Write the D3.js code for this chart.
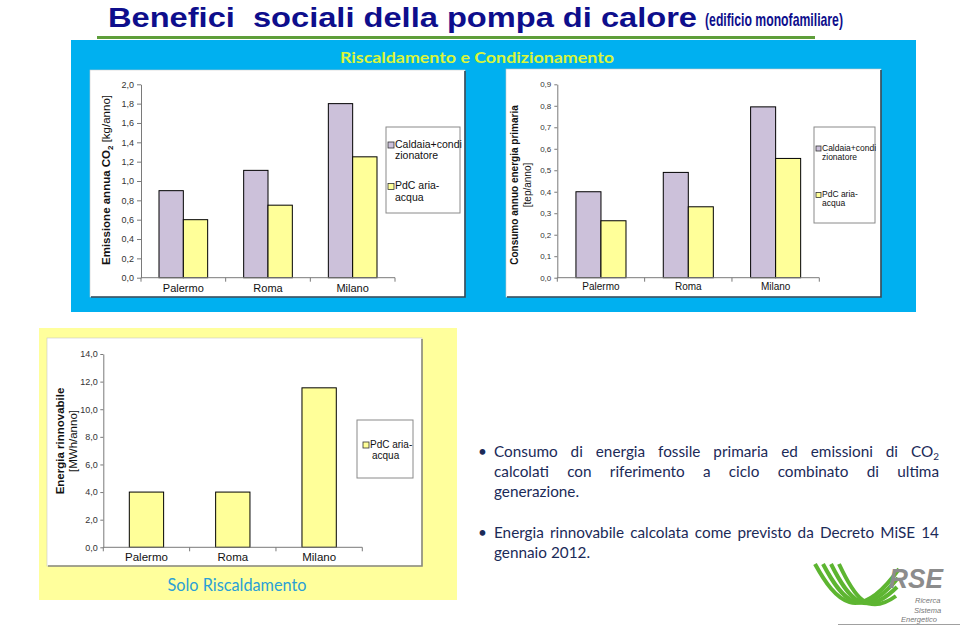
<!DOCTYPE html>
<html><head><meta charset="utf-8">
<script src="https://cdn.jsdelivr.net/npm/d3@7"></script>
<style>body{margin:0;background:#fff}svg{display:block}text{white-space:pre}</style>
</head><body><svg id="c" width="960" height="628"></svg>
<script>
// ---------- DATA ----------
const categories = ["Palermo", "Roma", "Milano"];
const seriesNames = ["Caldaia+condizionatore", "PdC aria-acqua"];
const co2Caldaia = [0.90, 1.11, 1.80];
const co2PdC = [0.60, 0.75, 1.25];
const primCaldaia = [0.40, 0.49, 0.795];
const primPdC = [0.265, 0.33, 0.555];
const rinnPdC = [4.0, 4.0, 11.55];
const co2Ticks = [0, 0.2, 0.4, 0.6, 0.8, 1.0, 1.2, 1.4, 1.6, 1.8, 2.0];
const primTicks = [0, 0.1, 0.2, 0.3, 0.4, 0.5, 0.6, 0.7, 0.8, 0.9];
const rinnTicks = [0, 2, 4, 6, 8, 10, 12, 14];
const legendCaldaia = ["Caldaia+condi", "zionatore"];
const legendPdC = ["PdC aria-", "acqua"];
const bullet1 = ["Consumo di energia fossile primaria ed emissioni di CO\u2082", "calcolati con riferimento a ciclo combinato di ultima", "generazione."];
const bullet2 = ["Energia rinnovabile calcolata come previsto da Decreto MiSE 14", "gennaio 2012."];

const PURPLE = "#CCC1DA", YELLOW = "#FFFF99";
const ARIAL = "'Liberation Sans', Arial, sans-serif";
const NARROW = "'Liberation Sans Narrow','Arial Narrow','Liberation Sans',sans-serif";
const svg = d3.select("#c");

// ---------- BACKGROUND / TITLE ----------
svg.append("text").attr("x", 108).attr("y", 26.5)
  .attr("font-family", NARROW).attr("font-weight", "bold").attr("font-size", 28).attr("fill", "#0E0E8C")
  .attr("textLength", 589).attr("lengthAdjust", "spacingAndGlyphs")
  .text("Benefici  sociali della pompa di calore");
svg.append("text").attr("x", 705).attr("y", 26)
  .attr("font-family", NARROW).attr("font-weight", "bold").attr("font-size", 19).attr("fill", "#0E0E8C")
  .attr("textLength", 138).attr("lengthAdjust", "spacingAndGlyphs")
  .text("(edificio monofamiliare)");
svg.append("rect").attr("x", 97).attr("y", 36).attr("width", 718).attr("height", 3).attr("fill", "#5E9E3A");

// blue panel
svg.append("rect").attr("x", 71).attr("y", 40).attr("width", 845).attr("height", 272).attr("fill", "#00B0F0");
svg.append("text").attr("x", 477).attr("y", 63).attr("text-anchor", "middle")
  .attr("font-family", "Lato, 'Open Sans', sans-serif").attr("font-size", 14.5).attr("font-weight", "bold")
  .attr("fill", "#DAF53A").attr("textLength", 274).attr("lengthAdjust", "spacingAndGlyphs")
  .text("Riscaldamento e Condizionamento");

// yellow panel
svg.append("rect").attr("x", 39).attr("y", 328).attr("width", 418).attr("height", 272).attr("fill", "#FFFF9C");
svg.append("text").attr("x", 237).attr("y", 591).attr("text-anchor", "middle")
  .attr("font-family", "Lato, 'Open Sans', sans-serif").attr("font-size", 16.5)
  .attr("fill", "#2A9FD6").attr("textLength", 139).attr("lengthAdjust", "spacingAndGlyphs")
  .text("Solo Riscaldamento");

// ---------- CHART FUNCTION ----------
function drawChart(o) {
  const g = svg.append("g");
  const [bx0, by0, bx1, by1] = o.box;
  g.append("rect").attr("x", bx0).attr("y", by0).attr("width", bx1 - bx0).attr("height", by1 - by0)
    .attr("fill", "#fff").attr("stroke", "#c8c8c8").attr("stroke-width", 0.6);
  g.append("path").attr("d", `M${bx1},${by0 + 1}V${by1}H${bx0 + 1}`).attr("fill", "none")
    .attr("stroke", o.shadow).attr("stroke-width", 1.6);

  const y = d3.scaleLinear().domain([0, o.yMax]).range([o.y0, o.y1]);
  const x = d3.scaleBand().domain(categories).range([o.x0, o.x1]).padding(0);
  const xs = d3.scaleBand().domain(o.series.map(s => s.name)).range([0, x.bandwidth()])
    .paddingInner(0).paddingOuter(o.pad);

  const ya = g.append("g").attr("transform", `translate(${o.x0},0)`)
    .call(d3.axisLeft(y).tickValues(o.ticks)
      .tickFormat(d => d3.format(".1f")(d).replace(".", ","))
      .tickSize(o.tickSize).tickSizeOuter(0).tickPadding(o.tickPad));
  ya.select(".domain").attr("stroke", "#7a7a7a");
  ya.selectAll(".tick line").attr("stroke", "#7a7a7a");
  ya.selectAll(".tick text").attr("font-family", ARIAL).attr("font-size", o.tickFs).attr("fill", "#333");

  o.series.forEach(s => {
    g.selectAll(null).data(s.values).join("rect")
      .attr("x", (d, i) => x(categories[i]) + xs(s.name))
      .attr("y", d => y(d))
      .attr("width", xs.bandwidth())
      .attr("height", d => y(0) - y(d))
      .attr("fill", s.color).attr("stroke", "#000").attr("stroke-width", 1);
  });

  g.append("line").attr("x1", o.x0).attr("x2", o.x1).attr("y1", y(0)).attr("y2", y(0)).attr("stroke", "#7a7a7a");
  const bounds = categories.map(c => x(c)).concat([x.range()[1]]);
  g.selectAll(null).data(bounds).join("line")
    .attr("x1", d => d).attr("x2", d => d).attr("y1", y(0)).attr("y2", y(0) + 4).attr("stroke", "#7a7a7a");
  g.selectAll(null).data(categories).join("text")
    .attr("x", d => x(d) + x.bandwidth() / 2).attr("y", y(0) + o.catDy)
    .attr("text-anchor", "middle").attr("font-family", ARIAL).attr("font-size", o.catFs).attr("fill", "#111")
    .text(d => d);

  const L = o.legend;
  g.append("rect").attr("x", L.box[0]).attr("y", L.box[1]).attr("width", L.box[2] - L.box[0])
    .attr("height", L.box[3] - L.box[1]).attr("fill", "#fff").attr("stroke", "#8a8a8a").attr("stroke-width", 1);
  L.items.forEach(it => {
    g.append("rect").attr("x", L.sqx).attr("y", it.ys[0] - L.sq + 0.5).attr("width", L.sq).attr("height", L.sq)
      .attr("fill", it.color).attr("stroke", "#333").attr("stroke-width", 0.8);
    it.lines.forEach((ln, k) => {
      g.append("text").attr("x", L.tx + (k > 0 ? L.indent : 0)).attr("y", it.ys[k])
        .attr("font-family", ARIAL).attr("font-size", L.fs).attr("fill", "#111").text(ln);
    });
  });

  const yl = g.append("g").attr("transform", `translate(0,${o.labY}) rotate(-90)`);
  o.ylabel(yl);
}

// ---------- CHART 1: CO2 ----------
drawChart({
  box: [90, 70, 465, 297], shadow: "#2f4858",
  x0: 141, x1: 395, y0: 277.7, y1: 84.3, yMax: 2.0, ticks: co2Ticks,
  tickSize: 4, tickPad: 3, tickFs: 9, catFs: 11, catDy: 14, pad: 0.74,
  series: [{ name: seriesNames[0], values: co2Caldaia, color: PURPLE },
           { name: seriesNames[1], values: co2PdC, color: YELLOW }],
  legend: { box: [386, 127, 460, 213], sqx: 388, sq: 6, tx: 395, indent: 0, fs: 10.5,
    items: [{ color: PURPLE, lines: legendCaldaia, ys: [147.5, 159] },
            { color: YELLOW, lines: legendPdC, ys: [189, 200.5] }] },
  labY: 180,
  ylabel: gl => {
    const t = gl.append("text").attr("x", 0).attr("y", 110).attr("text-anchor", "middle")
      .attr("font-family", ARIAL).attr("font-size", 11.5).attr("fill", "#111");
    t.append("tspan").attr("font-weight", "bold").text("Emissione annua CO");
    t.append("tspan").attr("font-weight", "bold").attr("font-size", 8).attr("dy", 3).text("2");
    t.append("tspan").attr("dy", -3).text(" [kg/anno]");
  }
});

// ---------- CHART 2: energia primaria ----------
drawChart({
  box: [506, 69, 881, 297], shadow: "#2f4858",
  x0: 557.3, x1: 819.3, y0: 277.7, y1: 84.3, yMax: 0.9, ticks: primTicks,
  tickSize: 3, tickPad: 3, tickFs: 8, catFs: 10, catDy: 12, pad: 0.745,
  series: [{ name: seriesNames[0], values: primCaldaia, color: PURPLE },
           { name: seriesNames[1], values: primPdC, color: YELLOW }],
  legend: { box: [814, 127, 875, 223], sqx: 816, sq: 5, tx: 822, indent: 0, fs: 8.5,
    items: [{ color: PURPLE, lines: legendCaldaia, ys: [150.5, 159.5] },
            { color: YELLOW, lines: legendPdC, ys: [197, 206] }] },
  labY: 185,
  ylabel: gl => {
    gl.append("text").attr("x", 0).attr("y", 518).attr("text-anchor", "middle")
      .attr("font-family", ARIAL).attr("font-size", 10).attr("font-weight", "bold").attr("fill", "#111")
      .text("Consumo annuo energia primaria");
    gl.append("text").attr("x", 0).attr("y", 531).attr("text-anchor", "middle")
      .attr("font-family", ARIAL).attr("font-size", 10).attr("fill", "#111")
      .text("[tep/anno]");
  }
});

// ---------- CHART 3: energia rinnovabile ----------
drawChart({
  box: [47, 338, 422, 566], shadow: "#8a8a7a",
  x0: 103.3, x1: 362.3, y0: 547.3, y1: 354, yMax: 14, ticks: rinnTicks,
  tickSize: 3, tickPad: 2.5, tickFs: 9, catFs: 11.5, catDy: 14, pad: 0.758,
  series: [{ name: seriesNames[1], values: rinnPdC, color: YELLOW }],
  legend: { box: [357, 420, 413, 478], sqx: 363, sq: 6, tx: 370, indent: 2, fs: 10,
    items: [{ color: YELLOW, lines: legendPdC, ys: [447.5, 459] }] },
  labY: 441,
  ylabel: gl => {
    gl.append("text").attr("x", 0).attr("y", 64).attr("text-anchor", "middle")
      .attr("font-family", ARIAL).attr("font-size", 11.5).attr("font-weight", "bold").attr("fill", "#111")
      .text("Energia rinnovabile");
    gl.append("text").attr("x", 0).attr("y", 77).attr("text-anchor", "middle")
      .attr("font-family", ARIAL).attr("font-size", 11.5).attr("fill", "#111")
      .text("[MWh/anno]");
  }
});

// ---------- BULLET TEXT ----------
const TF = "Lato, 'Open Sans', sans-serif", TC = "#1B2A58", TS = 15.3;
function textLine(str, x0, x1, yb, justify) {
  const words = str.split(" ");
  const nodes = words.map(w => {
    const t = svg.append("text").attr("y", yb).attr("font-family", TF).attr("font-size", TS).attr("fill", TC);
    if (w.endsWith("\u2082")) {
      t.append("tspan").text(w.slice(0, -1));
      t.append("tspan").attr("font-size", TS * 0.65).attr("dy", 3).text("2");
    } else t.text(w);
    return t;
  });
  const widths = nodes.map(n => n.node().getComputedTextLength());
  const sum = d3.sum(widths);
  const normal = TS * 0.26;
  let gap = justify && words.length > 1 ? (x1 - x0 - sum) / (words.length - 1) : normal;
  if (gap < 2.5) {
    const k = (x1 - x0 - 3 * (words.length - 1)) / sum;
    nodes.forEach((n, i) => n.attr("textLength", widths[i] * k).attr("lengthAdjust", "spacingAndGlyphs"));
    widths.forEach((w, i) => widths[i] = w * k);
    gap = 3;
  }
  let cx = x0;
  nodes.forEach((n, i) => { n.attr("x", cx); cx += widths[i] + gap; });
}
function bullet(lines, x0, x1, yb, lh) {
  svg.append("text").attr("x", 478).attr("y", yb).attr("font-family", TF).attr("font-size", TS).attr("fill", TC).text("\u2022");
  lines.forEach((l, i) => textLine(l, x0, x1, yb + i * lh, i < lines.length - 1));
}
bullet(bullet1, 494, 939, 457, 19.8);
bullet(bullet2, 494, 939, 538, 19.8);

// ---------- RSE LOGO ----------
const logo = svg.append("g");
logo.append("line").attr("x1", 838).attr("x2", 960).attr("y1", 624.5).attr("y2", 624.5).attr("stroke", "#a0a0a0").attr("stroke-width", 1);
[0, 1, 2, 3].forEach(i => {
  logo.append("path")
    .attr("d", `M${815 + i * 8},${564} C${836 + i * 6},${602 - i * 2} ${858 + i * 3},${626 - i * 3} ${899 - i * 1},${569 + i * 9}`)
    .attr("fill", "none").attr("stroke", "#5DB531").attr("stroke-width", 4).attr("stroke-linecap", "butt");
});
logo.append("text").attr("x", 889).attr("y", 588).attr("font-family", ARIAL).attr("font-style", "italic")
  .attr("font-weight", "bold").attr("font-size", 28).attr("fill", "#8C8C8C")
  .attr("textLength", 54).attr("lengthAdjust", "spacingAndGlyphs").text("RSE");
[["Ricerca", 915, 603], ["Sistema", 914, 612.5], ["Energetico", 901, 622]].forEach(([t, x, yb]) => {
  logo.append("text").attr("x", x).attr("y", yb).attr("font-family", ARIAL).attr("font-style", "italic")
    .attr("font-size", 7.5).attr("fill", "#777").text(t);
});
</script></body></html>
